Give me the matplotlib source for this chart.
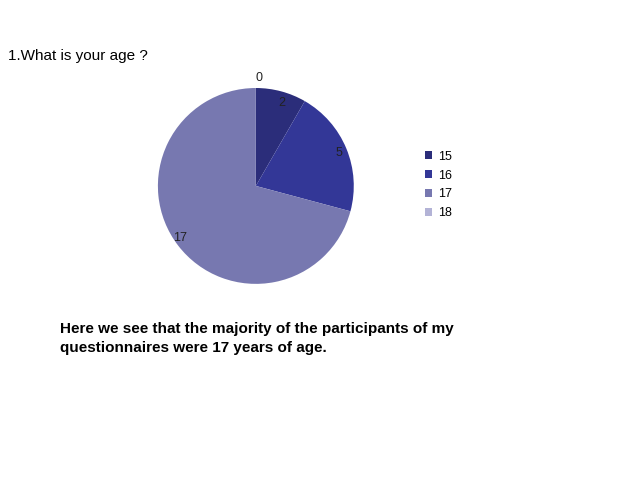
import matplotlib.pyplot as plt
import numpy as np

ages = ['15', '16', '17', '18']
counts = [2, 5, 17, 0]
colors = ['#2b2d7a', '#333797', '#7778b0', '#b3b3d6']

fig = plt.figure(figsize=(6.38, 4.78), dpi=100)
plt.rcParams['font.family'] = ['Liberation Sans', 'DejaVu Sans']

ax = fig.add_axes([0.401 - 0.1535, 0.611 - 0.205, 0.307, 0.41])
wedges, texts = ax.pie(counts, colors=colors, startangle=90, counterclock=False,
                       labels=[str(c) for c in counts], labeldistance=0.88,
                       textprops={'fontsize': 9, 'color': '#222222'})
for w, t, c in zip(wedges, texts, counts):
    if c == 0:
        ang = np.deg2rad((w.theta1 + w.theta2) / 2)
        t.set_position((1.06 * np.cos(ang), 1.1 * np.sin(ang)))
    t.set_clip_on(False)
ax.set_xlim(-1, 1)
ax.set_ylim(-1, 1)
ax.set_aspect('equal')

ax.legend(wedges, ages, loc='center left', bbox_to_anchor=(0.648, 0.613),
          bbox_transform=fig.transFigure, frameon=False, fontsize=9,
          handlelength=0.6, handleheight=0.6, handletextpad=0.5, labelspacing=0.55)

fig.text(0.013, 0.883, '1.What is your age ?', fontsize=11, va='center')
fig.text(0.094, 0.292, 'Here we see that the majority of the participants of my\n'
         'questionnaires were 17 years of age.', fontsize=11, fontweight='bold',
         va='center', linespacing=1.45)

fig.savefig('out.png', dpi=100)
